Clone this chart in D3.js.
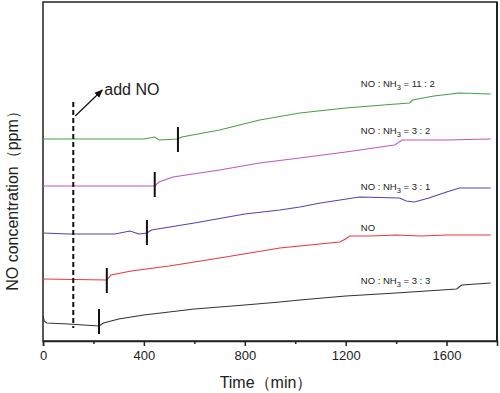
<!DOCTYPE html>
<html>
<head>
<meta charset="utf-8">
<script src="https://cdn.jsdelivr.net/npm/d3@7"></script>
<style>
  html, body { margin: 0; padding: 0; background: #fff; overflow: hidden; }
  svg { display: block; }
  text { font-family: "Liberation Sans", Arial, sans-serif; }
</style>
</head>
<body>
<svg id="chart" width="500" height="393"></svg>
<script>
// time in min, concentration in arbitrary units (no y scale in the original)
const black = [[0,25],[5,20],[15,18],[100,17],[222,15],[240,18],[300,22],[400,26],[600,32],[800,36],[939,39],[1018,41],[1200,45],[1400,48],[1640,52],[1660,56],[1775,58]];
const red = [[0,62],[253,61],[270,66],[350,70],[500,75],[700,83],[939,93],[1018,95],[1176,99],[1200,102],[1216,105],[1300,105],[1400,106],[1500,105],[1600,106],[1775,106]];
const blue = [[0,108],[100,107],[285,107],[345,110],[380,107],[412,108],[430,111],[600,118],[800,127],[939,131],[1018,134],[1100,138],[1255,144],[1414,143],[1440,140],[1473,139],[1530,143],[1600,149],[1651,153],[1775,153]];
const magenta = [[0,155],[443,155],[460,159],[515,164],[700,171],[859,178],[1018,183],[1200,189],[1394,196],[1425,201],[1500,201],[1600,201],[1775,202]];
const green = [[0,202],[400,202],[443,204],[460,201],[535,202],[550,204],[700,211],[859,221],[1018,228],[1200,233],[1400,237],[1453,238],[1465,241],[1550,245],[1651,248],[1775,247]];

const seriesNames = ["NO : NH3 = 3 : 3", "NO", "NO : NH3 = 3 : 1", "NO : NH3 = 3 : 2", "NO : NH3 = 11 : 2"];
const seriesColors = ["#333333", "#e8383a", "#4a48b0", "#c457b4", "#46a046"];
// start-of-rise markers: [time, low, high]
const markers = [[222,7,32],[253,48,73],[412,96,121],[443,144,169],[535,189,214]];
// label anchor: [time, value]
const labelPos = [[1260,57],[1260,110],[1260,151],[1260,207],[1260,254]];
const xTicks = [0, 400, 800, 1200, 1600];
const addNoTime = 120;

const svg = d3.select("#chart");
const margin = { left: 43, right: 3, top: 2, bottom: 52 };
const width = 500, height = 393;

const x = d3.scaleLinear().domain([0, 1800]).range([margin.left, width - margin.right]);
const y = d3.scaleLinear().domain([0, 339]).range([height - margin.bottom, margin.top]);

// frame
svg.append("rect").attr("x", x(0)).attr("y", y(339))
  .attr("width", x(1800) - x(0)).attr("height", y(0) - y(339))
  .attr("fill", "none").attr("stroke", "#222").attr("stroke-width", 1.5);
svg.append("line").attr("x1", x(1800)).attr("x2", x(1800)).attr("y1", y(339)).attr("y2", y(0))
  .attr("stroke", "#222").attr("stroke-width", 2);

// x axis
const xAxis = svg.append("g").attr("transform", `translate(0,${y(0)})`)
  .call(d3.axisBottom(x).tickValues(xTicks).tickSize(5).tickPadding(5).tickFormat(d3.format("d")));
xAxis.select(".domain").attr("stroke", "#222").attr("stroke-width", 1.5);
xAxis.selectAll(".tick line").attr("stroke", "#222").attr("stroke-width", 1.5);
xAxis.selectAll("text").attr("font-size", 13).attr("fill", "#222")
  .style("font-family", "'Liberation Sans', Arial, sans-serif");
svg.append("g").attr("transform", `translate(0,${y(0)})`)
  .call(d3.axisBottom(x).tickValues([200, 600, 1000, 1400]).tickSize(3).tickFormat(""))
  .call(g => g.select(".domain").remove())
  .selectAll(".tick line").attr("stroke", "#222").attr("stroke-width", 1.5);

// axis titles
svg.append("text").attr("x", 266).attr("y", 388).attr("text-anchor", "middle")
  .attr("font-size", 16).attr("fill", "#222").text("Time（min）");
svg.append("text").attr("transform", "translate(18,197) rotate(-90)").attr("text-anchor", "middle")
  .attr("font-size", 16).attr("fill", "#222").text("NO concentration（ppm）");

// lines
const line = d3.line().x(d => x(d[0])).y(d => y(d[1]));
[black, red, blue, magenta, green].forEach((s, i) => {
  svg.append("path").datum(s).attr("d", line).attr("fill", "none")
    .attr("stroke", seriesColors[i]).attr("stroke-width", 1.1);
});

// markers
svg.selectAll(".marker").data(markers).enter().append("line")
  .attr("x1", d => x(d[0])).attr("x2", d => x(d[0]))
  .attr("y1", d => y(d[1])).attr("y2", d => y(d[2]))
  .attr("stroke", "#111").attr("stroke-width", 2);

// add NO dashed line + arrow
svg.append("line").attr("x1", x(addNoTime)).attr("x2", x(addNoTime))
  .attr("y1", y(239)).attr("y2", y(13))
  .attr("stroke", "#111").attr("stroke-width", 2).attr("stroke-dasharray", "5,3");
svg.append("defs").append("marker").attr("id", "arrow").attr("viewBox", "0 0 10 10")
  .attr("refX", 9).attr("refY", 5).attr("markerWidth", 7).attr("markerHeight", 7)
  .attr("orient", "auto").append("path").attr("d", "M0,1 L10,5 L0,9 Z").attr("fill", "#111");
svg.append("line").attr("x1", x(addNoTime) + 2).attr("y1", y(225))
  .attr("x2", x(addNoTime) + 29).attr("y2", y(251))
  .attr("stroke", "#111").attr("stroke-width", 1.2).attr("marker-end", "url(#arrow)");
svg.append("text").attr("x", x(addNoTime) + 31).attr("y", y(246))
  .attr("font-size", 16).attr("fill", "#222").text("add NO");

// series labels with subscript
seriesNames.forEach((name, i) => {
  const t = svg.append("text").attr("x", x(labelPos[i][0])).attr("y", y(labelPos[i][1]))
    .attr("font-size", 9.5).attr("fill", "#222");
  const parts = name.split("NH3");
  t.append("tspan").text(parts[0] + (parts.length > 1 ? "NH" : ""));
  if (parts.length > 1) {
    t.append("tspan").attr("dy", 3).attr("font-size", 7.5).text("3");
    t.append("tspan").attr("dy", -3).text(parts[1]);
  }
});
</script>
</body>
</html>
